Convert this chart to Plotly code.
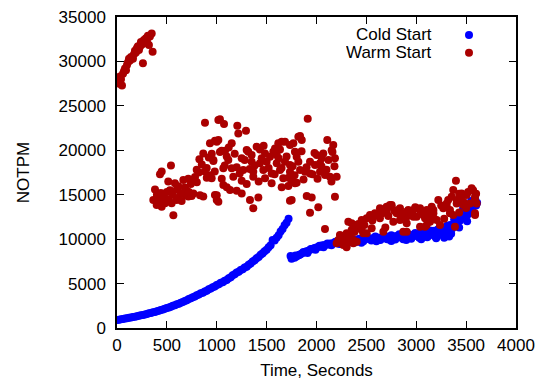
import plotly.graph_objects as go

# ---------------- data ----------------
cold_t = [0, 20, 40, 60, 80, 100, 120, 140, 160, 180, 200, 220, 240, 260, 280, 300, 320, 340, 360, 380,
          400, 420, 440, 460, 480, 500, 520, 540, 560, 580, 600, 620, 640, 660, 680, 700, 720, 740, 760, 780,
          800, 820, 840, 860, 880, 900, 920, 940, 960, 980, 1000, 1020, 1040, 1060, 1080, 1100, 1120, 1140,
          1160, 1180, 1200, 1220, 1240, 1260, 1280, 1300, 1320, 1340, 1360, 1380, 1400, 1420, 1440, 1460,
          1480, 1500, 1520, 1540, 1560, 1580, 1600, 1620, 1640, 1660, 1680, 1700, 1720,
          1740, 1760, 1780, 1800, 1820, 1840, 1860, 1880, 1900, 1920, 1940, 1960, 1980, 2000, 2020, 2040,
          2060, 2080, 2100, 2120, 2140, 2160, 2180, 2200, 2220, 2240, 2260, 2280, 2300, 2320, 2340, 2360,
          2380, 2400, 2420, 2440, 2460, 2480, 2500, 2520, 2540, 2560, 2580, 2600, 2620, 2640, 2660, 2680,
          2700, 2720, 2740, 2760, 2780, 2800, 2820, 2840, 2860, 2880, 2900, 2920, 2940, 2960, 2980, 3000,
          3020, 3040, 3060, 3080, 3100, 3120, 3140, 3160, 3180, 3200, 3220, 3240, 3260, 3280, 3300, 3320,
          3340, 3360, 3380, 3400, 3420, 3440, 3460, 3480, 3500, 3520, 3540, 3560, 3580, 3600, 3590, 3610,
          1750, 1790, 1830, 1870, 1910, 1950, 1990, 2030, 2070, 2110, 2150, 2190, 2230, 2270, 2310, 2350,
          2390, 2430, 2470, 2510, 2550, 2590, 2630, 2670, 2710, 2750, 2790, 2830, 2870, 2910, 2950, 2990,
          3030, 3070, 3110, 3150, 3190, 3230, 3270, 3310, 3350, 3390, 3430, 3470, 3510, 3550, 3570,
          2300, 2450, 2600, 2750, 2900, 3050, 3200, 3280, 3330]
cold_v = [900, 930, 980, 1000, 1060, 1090, 1150, 1180, 1240, 1270, 1330, 1370, 1430, 1470, 1530, 1580,
          1650, 1690, 1760, 1810, 1880, 1940, 2020, 2080, 2170, 2240, 2320, 2400, 2490, 2560, 2660, 2740,
          2850, 2930, 3050, 3130, 3250, 3340, 3460, 3550, 3680, 3760, 3900, 3980, 4120, 4200, 4350, 4440,
          4600, 4680, 4850, 4920, 5080, 5160, 5320, 5400, 5600, 5720, 5930, 6040, 6250, 6340, 6520, 6620,
          6800, 6900, 7120, 7260, 7480, 7620, 7850, 8000, 8250, 8400, 8650, 8800, 9100, 9320, 9900, 9840,
          10150, 10450, 10850, 11150, 11550, 11850, 12300,
          8100, 7950, 7900, 8050, 8200, 8300, 8450, 8500, 8650, 8700, 8850, 8850, 9000, 9050, 9150, 9150,
          9300, 9300, 9400, 9400, 9500, 9500, 9600, 9550, 9650, 9650, 9700, 9700, 9750, 9750, 9850, 9800,
          9900, 9850, 9950, 9900, 10000, 10000, 10050, 10050, 10000, 10100, 10050, 10150, 10150, 9900,
          10250, 10100, 10300, 10000, 10250, 10300, 10100, 10350, 10250, 10400, 10100, 10450, 10300, 10500,
          10200, 10450, 10550, 10350, 10600, 10300, 10650, 10450, 10750, 10350, 10850, 10500, 10950, 10400,
          11100, 10600, 11300, 10500, 11000, 10700, 11600, 11200, 12200, 11800, 12600, 12100, 13000, 12400,
          13300, 12800, 13700, 13300, 14200, 13800, 14600, 14100,
          7800, 8150, 8250, 8550, 8450, 8900, 8800, 9250, 9100, 9500, 9300, 9700, 9450, 9850, 9550, 9950,
          9650, 10050, 9750, 10200, 9850, 10300, 9950, 10350, 10000, 10450, 9950, 10550, 10000, 10650, 10050,
          10700, 10150, 10800, 10200, 10950, 10300, 11200, 10400, 11500, 10600, 12600, 11300, 13500, 12000,
          14300, 13000,
          9400, 9600, 9750, 9800, 9900, 10000, 10100, 10150, 10300]

warm_t = [0, 10, 20, 30, 40, 50, 60, 70, 80, 90, 100, 110, 120, 130, 140, 150, 160, 170, 180, 190, 200,
          210, 220, 230, 240, 250, 260, 270, 280, 290, 300, 310, 320, 330, 348, 357,
          882, 1016, 932, 1000, 1032, 865, 826, 966, 541, 448, 431, 799, 899, 932, 782, 715, 665, 514, 581,
          614, 381, 531, 699, 690, 766, 832, 865, 1000, 364, 414, 464, 398, 448, 481, 548, 598, 648, 715,
          748, 565, 1016,
          1032, 1073, 1206, 1216, 1293, 1912, 982, 1016, 1150, 1835, 1852, 2108, 2168, 2152, 1400, 1433,
          1617, 1684, 1734, 1049, 1083, 1316, 1350, 1484, 1534, 1567, 1601, 1634, 1784, 1801, 2002, 2068,
          2052, 2185, 966, 1116, 1250, 1350, 1433, 1500, 1601, 1684, 1734, 1818, 1935, 1985, 2035, 1066,
          1150, 1266, 1366, 1467, 1551, 1634, 1734, 1835, 1885, 1935, 2035, 2085, 2135, 2202, 949, 1166,
          1366, 1484, 1667, 1751, 1250, 1651, 1718, 1801, 1066, 1100, 1133, 1200, 1250, 982, 1000, 1333,
          1417, 1734, 1902, 1952, 2185, 2018, 1366, 1300, 1584, 1651, 1768, 1818, 1751, 1935, 1784,
          400, 420, 440, 470, 500, 520, 560, 600, 620, 640, 680, 720, 740, 760, 800, 820, 850, 880, 900,
          920, 950, 980, 1050, 1080, 1100, 1120, 1180, 1200, 1230, 1280, 1300, 1330, 1380, 1420, 1450,
          1470, 1520, 1550, 1580, 1620, 1650, 1700, 1720, 1760, 1780, 1850, 1870, 1900, 1960, 1980, 2010,
          2050, 2100, 2120, 2150, 2180, 2160,
          2085, 2202, 2219, 2252, 2269, 2302, 2302, 2235, 2285, 2319, 2336, 2369, 2369, 2403, 2319, 2352,
          2352, 2403, 2403, 2453, 2453, 2469, 2503, 2503, 2536, 2536, 2553, 2586, 2636, 2636, 2670, 2703,
          2703, 2736, 2753, 2753, 2770, 2803, 2820, 2837, 2837, 2870, 2870, 2887, 2904, 2904, 2904, 2920,
          2971, 2971, 3004, 3038, 3038, 3038, 3088, 3088, 3105, 3105, 3105, 3138, 3155, 3172, 3172, 3205,
          3221, 3238, 3271, 3305, 3305, 3338, 3338, 3355, 3371, 3371, 3388, 3398, 3405, 3405, 3455, 3472,
          3472, 3505, 3539, 3555, 3589, 3589, 3589, 3589, 3606, 2904,
          2260, 2330, 2380, 2420, 2480, 2560, 2600, 2660, 2690, 2720, 2780, 2850, 2950, 2990, 3060, 3120,
          3180, 3250, 3280, 3320, 3430, 3450, 3520, 3570, 3600, 3500, 3430]
warm_v = [27800, 28100, 27500, 28300, 28000, 27300, 28600, 28900, 29200, 29000, 29600, 29900, 30300, 30100,
          30500, 30400, 30300, 30800, 31200, 31000, 31500, 31700, 31300, 31650, 32200, 31900, 29800, 32400,
          32100, 32600, 32300, 32900, 31840, 32800, 33150, 31090,
          23100, 23400, 20800, 20950, 19800, 19650, 19000, 18800, 18300, 17600, 17300, 17800, 18000, 17200,
          17000, 16800, 16650, 16500, 16300, 15950, 15600, 15500, 15450, 14950, 15150, 14950, 14800, 14950,
          14400, 14600, 14400, 13840, 13650, 14030, 14030, 14400, 14300, 14800, 14850, 12700, 14200,
          23500, 22950, 22760, 21900, 22200, 23550, 21070, 21150, 20780, 21600, 21150, 21150, 20600, 20000,
          20400, 20100, 20780, 20960, 20600, 19950, 19950, 19840, 19460, 19650, 19270, 19840, 19460, 20100,
          19840, 19270, 19460, 19650, 19090, 19090, 18900, 18900, 19090, 18700, 18530, 18700, 18530, 18700,
          18340, 18700, 18700, 18340, 18530, 17970, 17970, 17780, 17590, 17780, 17400, 17780, 17590, 17780,
          17590, 17400, 17590, 17210, 17020, 17020, 16840, 17020, 17020, 16840, 16840, 16460, 16580, 15830,
          15980, 16350, 16090, 15830, 15530, 15450, 15150, 14960, 14400, 14400, 14700, 14320, 14850, 14700,
          14770, 13580, 13470, 20025, 20210, 20960, 20780, 21520, 14400, 12970, 16280,
          15000, 14200, 15200, 14800, 15300, 14500, 15000, 15600, 14700, 15200, 15800, 15300, 16200, 16600,
          16400, 17500, 18400, 17600, 16900, 19200, 19600, 17600, 16800, 18300, 19300, 20300, 19600, 18100,
          17400, 18900, 16200, 17900, 18300, 16500, 19100, 20500, 18000, 16300, 17300, 19100, 18000, 19300,
          16900, 18200, 17200, 19900, 16700, 18100, 17300, 19700, 16800, 18200, 17800, 18900, 16500, 18200,
          19800,
          11140, 9530, 9900, 10280, 9340, 10650, 9080, 10460, 10090, 9710, 10460, 9900, 9530, 9710, 11960,
          11030, 11780, 11400, 11590, 11030, 12150, 10650, 10650, 12340, 12520, 12710, 11220, 12900, 12340,
          13470, 10840, 13090, 13650, 13840, 13650, 13840, 11960, 12900, 13280, 12150, 13470, 10840, 12710,
          12520, 11780, 13090, 12520, 13280, 12520, 13280, 12520, 13280, 13470, 11400, 12340, 11400, 12900,
          13280, 11590, 11960, 13650, 12900, 13280, 12150, 14400, 11590, 13470, 14020, 13650, 13280, 12900,
          14770, 12710, 15530, 11400, 16570, 14400, 14020, 15150, 14210, 13840, 14960, 14020, 15720, 14770,
          12900, 12710, 14400, 14020, 10840,
          9900, 10200, 10800, 11700, 11600, 12100, 12700, 12900, 11300, 12600, 13200, 12800, 12900, 13600,
          12800, 12700, 12300, 13800, 12300, 14400, 15100, 14600, 15300, 15500, 15100, 13500, 13000]

x_ticks = [0, 500, 1000, 1500, 2000, 2500, 3000, 3500, 4000]
y_ticks = [0, 5000, 10000, 15000, 20000, 25000, 30000, 35000]
series_names = ["Cold Start", "Warm Start"]
series_colors = ["#0000ff", "#aa0000"]

FONT = "Liberation Sans, Arial, sans-serif"
FS = 17
MS = 8

# the page body has an 8px margin, so the figure is drawn 8px in from the window corner
OFF = 8
FIG_W, FIG_H = 543 - OFF, 382 - OFF
L, R, T, B = 117 - OFF, 516 - OFF, 17 - OFF, 328 - OFF
W, H = R - L, B - T


def px_x(p):
    return (p - OFF - L) / W


def px_y(p):
    return (B - (p - OFF)) / H


fig = go.Figure()
fig.add_trace(go.Scatter(x=cold_t, y=cold_v, mode="markers", name=series_names[0],
                         marker=dict(color=series_colors[0], size=MS, line=dict(width=0))))
fig.add_trace(go.Scatter(x=warm_t, y=warm_v, mode="markers", name=series_names[1],
                         marker=dict(color=series_colors[1], size=MS, line=dict(width=0))))

# gnuplot-style legend: right-aligned text, marker sample to the right
shapes = []
annotations = []
for i, (nm, col) in enumerate(zip(series_names, series_colors)):
    cy = 35 + i * 17.7
    annotations.append(dict(xref="paper", yref="paper", x=px_x(433), y=px_y(cy), text=nm,
                            showarrow=False, xanchor="right", yanchor="middle", height=17,
                            valign="middle", borderpad=0,
                            font=dict(family=FONT, size=FS, color="black")))
    r = 4
    shapes.append(dict(type="circle", xref="paper", yref="paper",
                       x0=px_x(469 - r), x1=px_x(469 + r), y0=px_y(cy + r), y1=px_y(cy - r),
                       fillcolor=col, line=dict(width=0)))

fig.update_layout(
    width=FIG_W, height=FIG_H,
    margin=dict(l=L, r=FIG_W - R, t=T, b=FIG_H - B),
    plot_bgcolor="white", paper_bgcolor="white",
    showlegend=False,
    font=dict(family=FONT, size=FS, color="black"),
    shapes=shapes, annotations=annotations,
)
axis_common = dict(showgrid=False, zeroline=False, showline=True, linecolor="black", linewidth=1.5,
                   mirror="ticks", ticks="inside", ticklen=7, tickwidth=1, tickcolor="black",
                   automargin=False, ticklabeloverflow="allow",
                   tickfont=dict(family=FONT, size=FS, color="black"))
fig.update_xaxes(range=[0, 4000], tickvals=x_ticks, ticktext=[str(v) for v in x_ticks],
                 title=dict(text="Time, Seconds", standoff=10, font=dict(family=FONT, size=FS)),
                 ticklabelstandoff=1, **axis_common)
fig.update_yaxes(range=[0, 35000], tickvals=y_ticks, ticktext=[str(v) for v in y_ticks],
                 title=dict(text="NOTPM", standoff=25, font=dict(family=FONT, size=FS)),
                 ticklabelstandoff=6, **axis_common)

fig.write_html("out.html")
